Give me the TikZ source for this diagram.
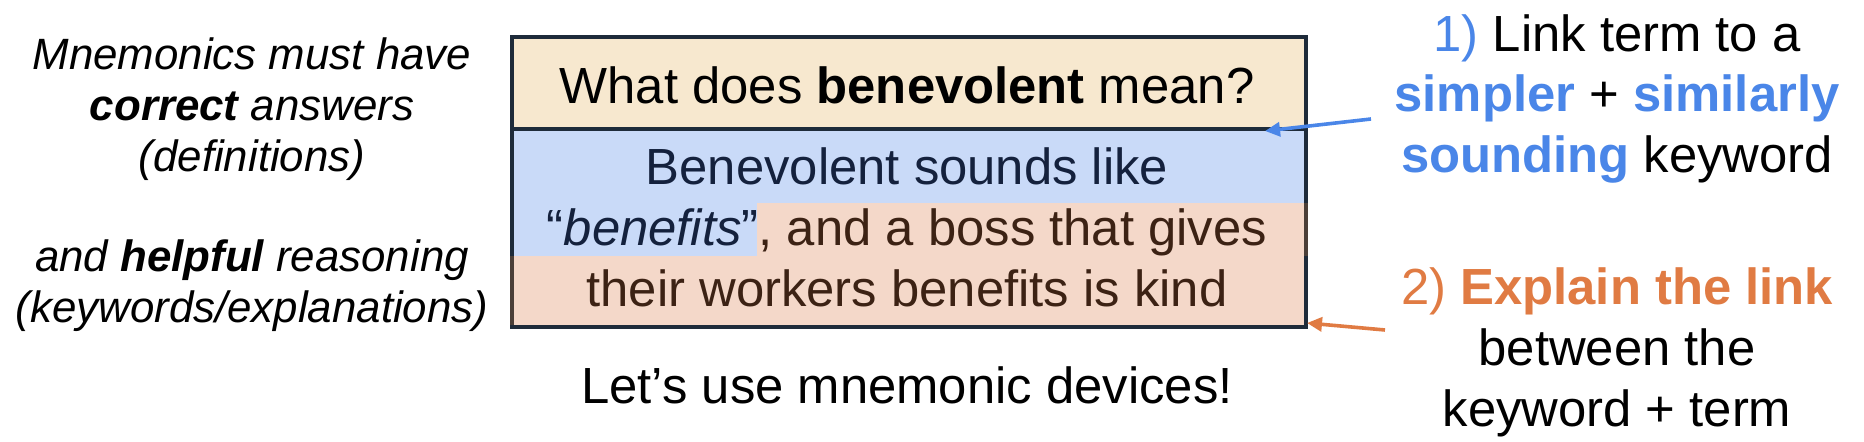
\documentclass[tikz,border=0pt]{standalone}
\usepackage{fontspec}
\setmainfont{Liberation Sans}
\usetikzlibrary{arrows.meta}
\definecolor{beige}{HTML}{F7E8CF}
\definecolor{lblue}{HTML}{C9DAF8}
\definecolor{peach}{HTML}{F4D8C9}
\definecolor{navytext}{HTML}{14213D}
\definecolor{browntext}{HTML}{3C2214}
\definecolor{bordercol}{HTML}{1E2B3A}
\definecolor{brownborder}{HTML}{4B3F38}
\definecolor{accblue}{HTML}{4A86E8}
\definecolor{accorange}{HTML}{E07B43}
\tikzset{
  big/.style={inner sep=0pt, anchor=base, font=\fontsize{51}{60}\selectfont},
  lefttxt/.style={inner sep=0pt, anchor=base, font=\fontsize{44}{52}\selectfont\itshape},
  boxline/.style={line width=4bp, draw=bordercol},
  pointer/.style={line width=3.6bp, -{Triangle[length=15bp,width=14bp]}},
}
\begin{document}
\begin{tikzpicture}[x=1bp,y=-1bp]
\useasboundingbox (0,0) rectangle (1864,442);
% box regions
\fill[beige] (512,37.5) rectangle (1305.5,129.5);
\fill[lblue] (512,129.5) rectangle (1305.5,203);
\fill[lblue] (512,203) rectangle (757,256);
\fill[peach] (757,203) rectangle (1305.5,256);
\fill[peach] (512,256) rectangle (1305.5,327.5);
\draw[boxline] (512,37.5) rectangle (1305.5,327.5);
\draw[boxline, draw=brownborder] (512,256) -- (512,325.5);
\draw[boxline, draw=brownborder] (1305.5,203) -- (1305.5,256);
\draw[boxline] (512,129.5) -- (1305.5,129.5);
% box text
\node[big] (q) at (907,104) {What does \textbf{benevolent} mean?};
\node[big, text=navytext] (b1) at (907,185) {Benevolent sounds like};
\node[big] (b2) at (907,246) {\textcolor{navytext}{“\textit{benefits}”}\textcolor{browntext}{, and a boss that gives}};
\node[big, text=browntext] (b3) at (907,307) {their workers benefits is kind};
\node[big] (bottom) at (907,403) {Let’s use mnemonic devices!};
% left text
\node[lefttxt] (l1) at (252,70) {Mnemonics must have};
\node[lefttxt] (l2) at (252,121) {\textbf{correct} answers};
\node[lefttxt] (l3) at (252,172) {(definitions)};
\node[lefttxt] (l4) at (252,272) {and \textbf{helpful} reasoning};
\node[lefttxt] (l5) at (252,323) {(keywords/explanations)};
% right text
\node[big] (r1) at (1617,52) {\textcolor{accblue}{1)} Link term to a};
\node[big] (r2) at (1617,112) {\textcolor{accblue}{\bfseries simpler} + \textcolor{accblue}{\bfseries similarly}};
\node[big] (r3) at (1617,173) {\textcolor{accblue}{\bfseries sounding} keyword};
\node[big] (r4) at (1617,305) {\textcolor{accorange}{2) \bfseries Explain the link}};
\node[big] (r5) at (1617,366) {between the};
\node[big] (r6) at (1617,426) {keyword + term};
% arrows
\coordinate (a1s) at (1371,119);
\coordinate (a1e) at (1265,131);
\coordinate (a2s) at (1385,330);
\coordinate (a2e) at (1307,323);
\draw[pointer, accblue] (a1s) -- (a1e);
\draw[pointer, accorange] (a2s) -- (a2e);
\end{tikzpicture}
\end{document}
